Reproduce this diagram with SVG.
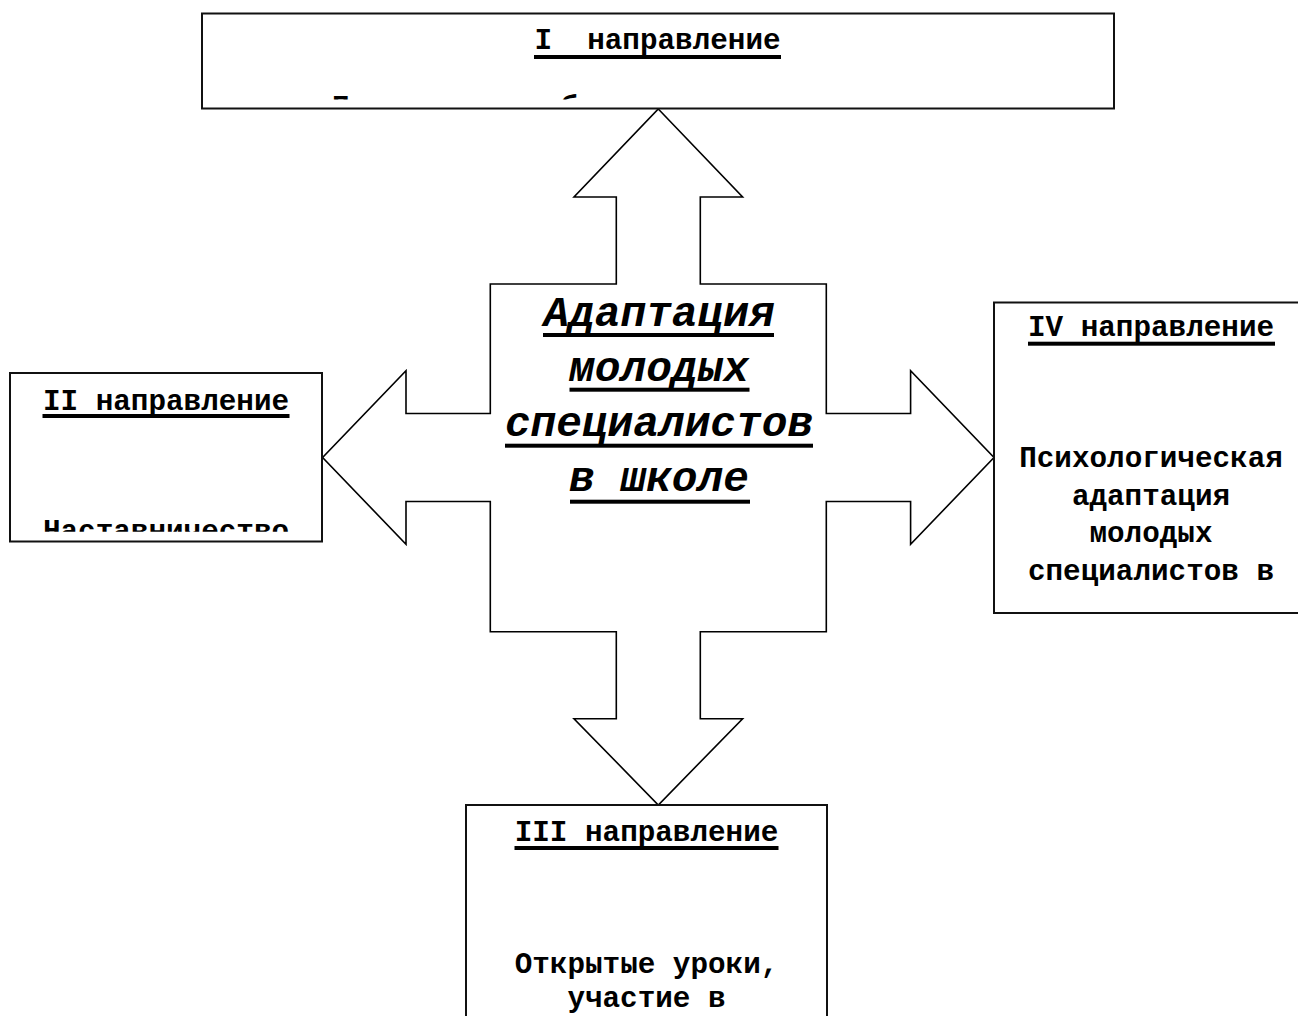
<svg xmlns="http://www.w3.org/2000/svg" width="1298" height="1016" viewBox="0 0 1298 1016">
<defs>
<style>
.box{fill:#fff;stroke:#111;stroke-width:2}
.t{font-family:"Liberation Mono","Courier New",monospace;font-weight:bold;font-size:29.3px;fill:#000;text-anchor:middle}
.c{font-family:"Liberation Mono","Courier New",monospace;font-weight:bold;font-style:italic;font-size:42.8px;fill:#000;text-anchor:middle}
.ul{fill:#000}
.arrow{fill:#fff;stroke:#000;stroke-width:1.6;stroke-linejoin:miter}
</style>
<clipPath id="clipI"><rect x="202" y="13" width="912" height="86.5"/></clipPath>
<clipPath id="clipII"><rect x="10" y="373" width="312" height="158.7"/></clipPath>
</defs>
<rect width="1298" height="1016" fill="#fff"/>

<g id="connectors">
<polygon class="arrow" points="658.3,109 742.6,197 700.3,197 700.3,284 826.3,284 826.3,413.5 910.6,413.5 910.6,370.7 994,457.5 910.6,544.3 910.6,501.5 826.3,501.5 826.3,631.7 700.3,631.7 700.3,718.7 742.6,718.7 658.3,805 574,718.7 616.3,718.7 616.3,631.7 490.3,631.7 490.3,501.5 406,501.5 406,544.3 322.6,457.5 406,370.7 406,413.5 490.3,413.5 490.3,284 616.3,284 616.3,197 574,197"/>
</g>

<g id="center">
<text class="c" x="659" y="325.5">Адаптация</text>
<rect class="ul" x="543" y="333" width="231" height="4"/>
<text class="c" x="659" y="380.5">молодых</text>
<rect class="ul" x="569.5" y="387.7" width="180" height="4"/>
<text class="c" x="659" y="436">специалистов</text>
<rect class="ul" x="505" y="443.7" width="308" height="4"/>
<text class="c" x="659" y="491">в школе</text>
<rect class="ul" x="570" y="499.7" width="180" height="4"/>
</g>

<g id="node-I">
<rect class="box" x="202" y="13.5" width="912" height="95"/>
<text class="t" x="657.5" y="49" xml:space="preserve">I  направление</text>
<rect class="ul" x="534" y="55" width="247" height="4"/>
<g clip-path="url(#clipI)">
<text class="t" x="332" y="116" style="text-anchor:start">Предметная работа</text>
</g>
</g>

<g id="node-II">
<rect class="box" x="10" y="373" width="312" height="168.5"/>
<text class="t" x="166" y="409.5">II направление</text>
<rect class="ul" x="42.5" y="414" width="247" height="4"/>
<g clip-path="url(#clipII)">
<text class="t" x="166" y="540">Наставничество</text>
</g>
</g>

<g id="node-III">
<rect class="box" x="466" y="805" width="361" height="230"/>
<text class="t" x="646.5" y="840.5">III направление</text>
<rect class="ul" x="514.5" y="846" width="264" height="4"/>
<text class="t" x="646.5" y="973">Открытые уроки,</text>
<text class="t" x="646.5" y="1007">участие в</text>
</g>

<g id="node-IV">
<rect class="box" x="994" y="302.5" width="320" height="310.5"/>
<text class="t" x="1151" y="336">IV направление</text>
<rect class="ul" x="1028" y="341.7" width="247" height="4"/>
<text class="t" x="1151" y="467">Психологическая</text>
<text class="t" x="1151" y="504.5">адаптация</text>
<text class="t" x="1151" y="542">молодых</text>
<text class="t" x="1151" y="579.5">специалистов в</text>
</g>
</svg>
